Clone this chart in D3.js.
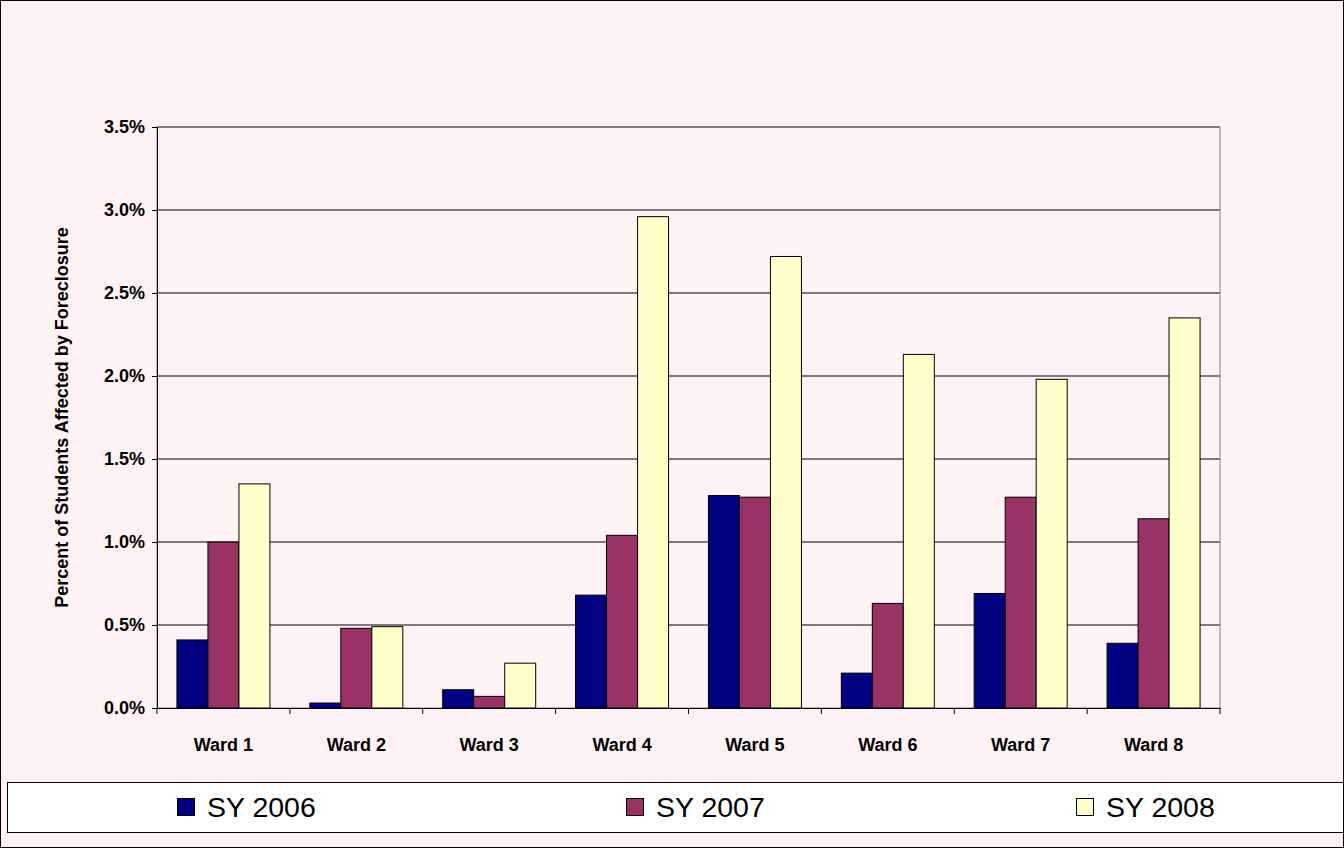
<!DOCTYPE html>
<html><head><meta charset="utf-8">
<script src="https://cdn.jsdelivr.net/npm/d3@7"></script>
<style>body{margin:0;background:#fff}</style>
</head><body>
<svg id="c" width="1344" height="848"></svg>
<script>
var categories = ["Ward 1","Ward 2","Ward 3","Ward 4","Ward 5","Ward 6","Ward 7","Ward 8"];
var seriesNames = ["SY 2006","SY 2007","SY 2008"];
var sy2006 = [0.41,0.03,0.11,0.68,1.28,0.21,0.69,0.39];
var sy2007 = [1.00,0.48,0.07,1.04,1.27,0.63,1.27,1.14];
var sy2008 = [1.35,0.49,0.27,2.96,2.72,2.13,1.98,2.35];
var yTicks = [0,0.5,1,1.5,2,2.5,3,3.5];
var colors = ["#000080","#993366","#FFFFCC"];
var series = [sy2006, sy2007, sy2008];

var svg = d3.select("#c");
var font = "Arial, 'Liberation Sans', sans-serif";
svg.append("rect").attr("x",0.5).attr("y",0.5).attr("width",1343).attr("height",847)
  .attr("fill","#FFF2F4").attr("stroke","#000");

var L=157, R=1220, T=127, B=708;
var x = d3.scaleBand().domain(categories).range([L,R]).paddingInner(0.3).paddingOuter(0.15);
var xs = d3.scaleBand().domain([0,1,2]).range([0,x.bandwidth()]);
var y = d3.scaleLinear().domain([0,3.5]).range([B,T]);

var g = svg.append("g");
g.selectAll("line.grid").data(yTicks.slice(1)).enter().append("line")
  .attr("x1",L).attr("x2",R).attr("y1",function(d){return y(d);}).attr("y2",function(d){return y(d);})
  .attr("stroke","#000").attr("stroke-width",1);
g.append("rect").attr("x",L).attr("y",T).attr("width",R-L).attr("height",B-T)
  .attr("fill","none").attr("stroke","#808080");

series.forEach(function(s,i){
  g.selectAll("rect.s"+i).data(s).enter().append("rect")
    .attr("x",function(d,j){return x(categories[j])+xs(i);})
    .attr("y",function(d){return y(d);})
    .attr("width",xs.bandwidth())
    .attr("height",function(d){return B-y(d);})
    .attr("fill",colors[i]).attr("stroke","#000").attr("stroke-width",1);
});

var ya = svg.append("g").attr("transform","translate("+L+",0)")
  .call(d3.axisLeft(y).tickValues(yTicks).tickSize(5).tickPadding(7).tickFormat(function(d){return d.toFixed(1)+"%";}));
ya.attr("font-family",font).attr("font-size",18);
ya.selectAll("text").attr("font-weight","bold").attr("fill","#000");
ya.select(".domain").attr("stroke","#000");

var xa = svg.append("g").attr("transform","translate(0,"+B+")")
  .call(d3.axisBottom(x).tickSize(0).tickPadding(30));
xa.attr("font-family",font).attr("font-size",18);
xa.selectAll("text").attr("font-weight","bold").attr("fill","#000");
xa.select(".domain").attr("stroke","#000");
xa.selectAll("line.sep").data(d3.range(categories.length+1)).enter().append("line")
  .attr("x1",function(i){return L+i*(R-L)/categories.length;})
  .attr("x2",function(i){return L+i*(R-L)/categories.length;})
  .attr("y1",0).attr("y2",6).attr("stroke","#000");

svg.append("text").attr("transform","translate(68,"+((T+B)/2)+") rotate(-90)")
  .attr("text-anchor","middle").attr("font-family",font).attr("font-size",18).attr("font-weight","bold")
  .text("Percent of Students Affected by Foreclosure");

svg.append("rect").attr("x",7.5).attr("y",782.5).attr("width",1336).attr("height",50)
  .attr("fill","#fff").attr("stroke","#000");
var lx = [177,626,1076];
seriesNames.forEach(function(n,i){
  svg.append("rect").attr("x",lx[i]+0.5).attr("y",798.5).attr("width",17).attr("height",17)
    .attr("fill",colors[i]).attr("stroke","#000");
  svg.append("text").attr("x",lx[i]+30).attr("y",817).attr("font-family",font).attr("font-size",28.5)
    .text(n);
});
</script>
</body></html>
